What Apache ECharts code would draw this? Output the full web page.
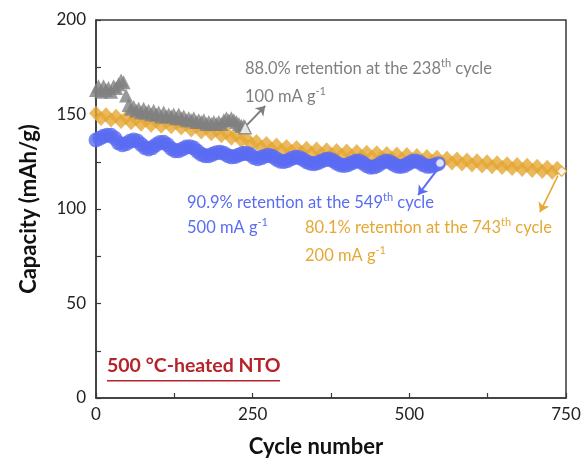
<!DOCTYPE html>
<html><head><meta charset="utf-8">
<script src="https://cdn.jsdelivr.net/npm/echarts@6/dist/echarts.min.js"></script>
<style>html,body{margin:0;padding:0;background:#fff}#c{width:587px;height:465px}</style>
</head><body><div id="c"></div>
<script>
// ---- data ----
const greyCycles = [0,4,8,12,16,20,24,28,32,36,40,44,48,52,56,60,64,68,72,76,80,84,88,92,96,100,104,108,112,116,120,124,128,132,136,140,144,148,152,156,160,164,168,172,176,180,184,188,192,196,200,204,208,212,216,220,224,228,232,236];
const greyValues = [163,165,162,165,163,164,162,165,164,166,168,167,160,155,153,154,152,153,151,153,151,152,150,152,150,151,149,151,149,150,149,150,148,150,148,149,147,148,147,148,146,147,146,147,145,146,145,146,145,146,145,147,148,147,148,147,146,145,144,144];
const greyEnd = [238, 143];

const blueCycles = [0,6,12,18,24,30,36,42,48,54,60,66,72,78,84,90,96,102,108,114,120,126,132,138,144,150,156,162,168,174,180,186,192,198,204,210,216,222,228,234,240,246,252,258,264,270,276,282,288,294,300,306,312,318,324,330,336,342,348,354,360,366,372,378,384,390,396,402,408,414,420,426,432,438,444,450,456,462,468,474,480,486,492,498,504,510,516,522,528,534,540,546];
const blueValues = [136.5,137.5,138.5,139,139,137.5,135,134,134.5,135.8,136.5,136,134.2,132.5,131.8,132.5,134,135.2,135.3,134,132,130.8,130.8,131.8,132.8,133,132.3,130.5,129,128.2,128.2,129,129.8,130,129.5,128.3,127.6,127.8,128.6,129.3,129.5,128.8,127.3,126.6,127.2,128.1,128.5,127.8,126.4,125.3,125.1,125.7,126.7,127.4,127.3,126.3,125,124.2,124,124.5,125.4,126.2,126.4,125.6,124.3,123.3,123,123.4,124.4,125.3,125.4,124.3,122.9,122.1,122.3,123.2,124.5,125.4,125.1,123.9,122.8,122.5,122.9,124,125.1,125.4,124.8,123.5,122.6,122.6,123.2,124];
const blueEnd = [549, 124.3];

const orangeCycles = [0,8,16,24,32,40,48,56,64,72,80,88,96,104,112,120,128,136,144,152,160,168,176,184,192,200,208,216,224,232,240,248,256,264,272,280,288,296,304,312,320,328,336,344,352,360,368,376,384,392,400,408,416,424,432,440,448,456,464,472,480,488,496,504,512,520,528,536,544,552,560,568,576,584,592,600,608,616,624,632,640,648,656,664,672,680,688,696,704,712,720,728,736];
const orangeValues = [150.7,147.9,149.9,147.1,149.1,146.3,148.3,145.6,147.6,144.9,147.0,144.3,146.4,143.8,146.0,143.5,145.7,142.9,144.8,141.8,143.7,140.8,142.7,139.8,141.7,138.8,140.5,137.5,139.2,136.1,137.5,134.2,135.7,132.6,134.6,131.8,133.8,131.0,133.1,130.4,132.6,130.0,132.1,129.5,131.7,129.1,131.3,128.8,131.0,128.5,130.7,128.1,130.4,127.8,130.0,127.5,129.7,127.2,129.4,126.9,129.1,126.5,128.8,126.2,128.3,125.7,127.8,125.2,127.4,124.7,126.9,124.3,126.4,123.8,125.9,123.3,125.5,122.8,125.0,122.3,124.5,121.9,124.0,121.4,123.5,120.9,123.1,120.4,122.6,119.9,122.1,119.4,121.5];
const orangeEnd = [743, 120.0];

const xTicks = [0, 250, 500, 750];
const yTicks = [0, 50, 100, 150, 200];

// arrows (data coordinates): [start, tip]
const greyArrow = [[241, 144.5], [270, 154.5]];
const blueArrow = [[544, 120.6], [514, 107.4]];
const orangeArrow = [[737, 117.5], [708.5, 98.4]];

const GREY = '#7f7f7f', BLUE = '#5a6cf2', ORANGE = '#e5a834', RED = '#b5232b';
const FONT = 'Lato';

function pts(xs, ys) { return xs.map((x, i) => [x, ys[i]]); }

const chart = echarts.init(document.getElementById('c'), null, {renderer: 'canvas'});
const supRich = { sup: { fontSize: 11, verticalAlign: 'top', fontFamily: FONT, lineHeight: 21 } };
function note(x, y, text, color) {
  return { type: 'text', left: x, top: y, style: { text: text, rich: supRich, fill: color, fontFamily: FONT, fontSize: 16.5, lineHeight: 21 } };
}

chart.setOption({
  animation: false,
  backgroundColor: '#fff',
  grid: { left: 96, right: 21, top: 20, bottom: 67, show: true, borderColor: '#3a3a3a', borderWidth: 1.5 },
  xAxis: {
    type: 'value', min: xTicks[0], max: xTicks[xTicks.length - 1], interval: 250,
    name: 'Cycle number', nameLocation: 'middle', nameGap: 38,
    nameTextStyle: { fontFamily: FONT, fontWeight: 'bold', fontSize: 22, color: '#111', padding: [0, 30, 0, 0] },
    axisLine: { lineStyle: { color: '#3a3a3a', width: 1.5 } },
    axisTick: { inside: true, length: 5, lineStyle: { color: '#3a3a3a', width: 1.2 } },
    minorTick: { show: true, splitNumber: 2, length: 5, lineStyle: { color: '#3a3a3a', width: 1.2 } },
    axisLabel: { fontFamily: FONT, fontSize: 17, color: '#222', margin: 8 },
    splitLine: { show: false }
  },
  yAxis: {
    type: 'value', min: yTicks[0], max: yTicks[yTicks.length - 1], interval: 50,
    name: 'Capacity (mAh/g)', nameLocation: 'middle', nameGap: 56,
    nameTextStyle: { fontFamily: FONT, fontWeight: 'bold', fontSize: 22, color: '#111' },
    axisLine: { show: true, lineStyle: { color: '#3a3a3a', width: 1.5 } },
    axisTick: { show: true, inside: true, length: 5, lineStyle: { color: '#3a3a3a', width: 1.2 } },
    minorTick: { show: true, splitNumber: 2, length: 5, lineStyle: { color: '#3a3a3a', width: 1.2 } },
    axisLabel: { fontFamily: FONT, fontSize: 17, color: '#222', margin: 10 },
    splitLine: { show: false }
  },
  series: [
    {
      name: '200 mA g-1', type: 'scatter', symbol: 'diamond', symbolSize: [14, 15],
      itemStyle: { color: ORANGE }, z: 2,
      data: pts(orangeCycles, orangeValues).concat([{ value: orangeEnd, symbolSize: 10, itemStyle: { color: '#fff', borderColor: ORANGE, borderWidth: 1.5 } }]),
      markLine: { silent: true, symbol: ['none', 'arrow'], symbolSize: 9, label: { show: false },
        lineStyle: { color: ORANGE, width: 1.6, type: 'solid' },
        data: [[{ coord: orangeArrow[0] }, { coord: orangeArrow[1] }]] }
    },
    {
      name: '500 mA g-1', type: 'scatter', symbol: 'circle', symbolSize: 15,
      itemStyle: { color: BLUE }, z: 3,
      data: pts(blueCycles, blueValues).concat([{ value: blueEnd, symbolSize: 9, itemStyle: { color: '#fff', borderColor: BLUE, borderWidth: 1.5 } }]),
      markLine: { silent: true, symbol: ['none', 'arrow'], symbolSize: 9, label: { show: false },
        lineStyle: { color: BLUE, width: 2, type: 'solid' },
        data: [[{ coord: blueArrow[0] }, { coord: blueArrow[1] }]] }
    },
    {
      name: '100 mA g-1', type: 'scatter', symbol: 'triangle', symbolSize: 14,
      itemStyle: { color: GREY }, z: 4,
      data: pts(greyCycles, greyValues).concat([{ value: greyEnd, symbolSize: 12, itemStyle: { color: '#fff', borderColor: GREY, borderWidth: 1.5 } }]),
      markLine: { silent: true, symbol: ['none', 'arrow'], symbolSize: 9, label: { show: false },
        lineStyle: { color: GREY, width: 2, type: 'solid' },
        data: [[{ coord: greyArrow[0] }, { coord: greyArrow[1] }]] }
    }
  ],
  graphic: [
    note(245, 58, '88.0% retention at the 238{sup|th} cycle', GREY),
    note(245, 86, '100 mA g{sup|-1}', GREY),
    note(187, 192, '90.9% retention at the 549{sup|th} cycle', BLUE),
    note(187, 217, '500 mA g{sup|-1}', BLUE),
    note(305, 217, '80.1% retention at the 743{sup|th} cycle', ORANGE),
    note(305, 245, '200 mA g{sup|-1}', ORANGE),
    { type: 'text', left: 107, top: 356, style: { text: '500 °C-heated NTO', fill: RED, fontFamily: FONT, fontWeight: 'bold', fontSize: 19.5 } },
    { type: 'rect', shape: { x: 107, y: 380, width: 173, height: 1.6 }, style: { fill: RED } }
  ]
});
</script></body></html>
